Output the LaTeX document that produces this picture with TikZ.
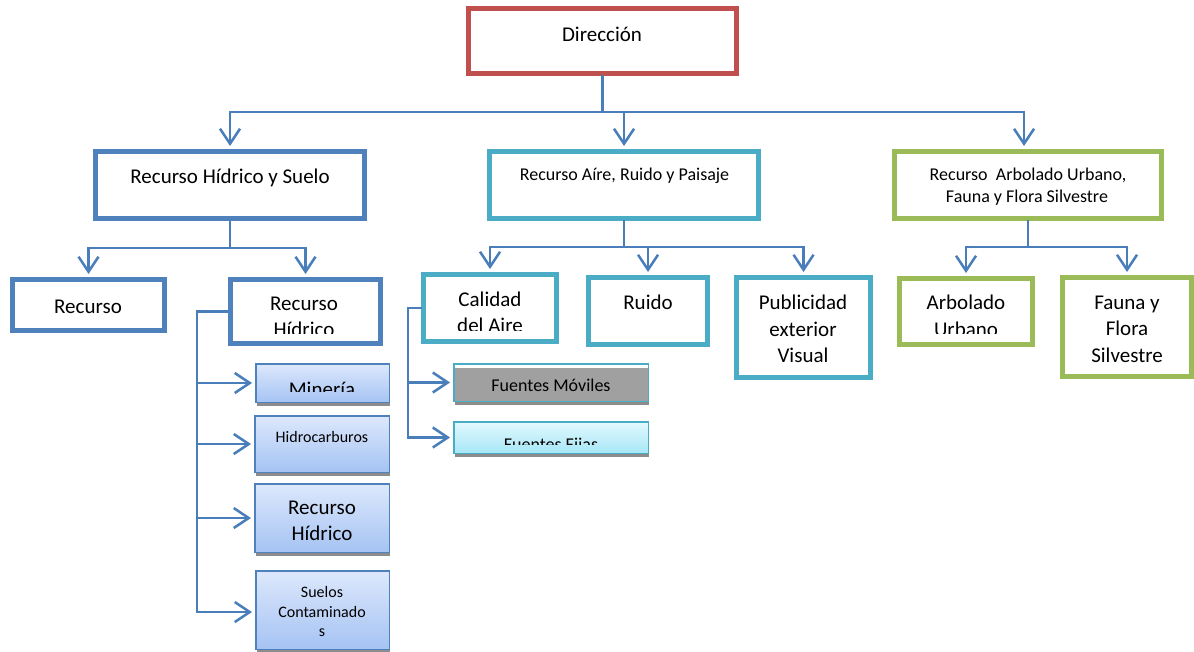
\documentclass[tikz,border=0pt]{standalone}
\usepackage{fontspec}
\setmainfont{Carlito}
\usetikzlibrary{arrows.meta,calc,shadows}
\definecolor{cRed}{HTML}{C0504D}
\definecolor{cBlue}{HTML}{4F81BD}
\definecolor{cTeal}{HTML}{4BACC6}
\definecolor{cGreen}{HTML}{9BBB59}
\definecolor{cLine}{HTML}{4A7EBB}
\definecolor{subTop}{HTML}{DDE8FC}
\definecolor{subBot}{HTML}{A5C3F3}
\definecolor{fijTop}{HTML}{E3F9FE}
\definecolor{fijBot}{HTML}{A6E6F6}
\definecolor{movGray}{HTML}{A0A0A0}
\definecolor{shGray}{HTML}{8C8C8C}
\begin{document}
\begin{tikzpicture}[x=1pt,y=-1pt,
  box/.style={draw=#1, line width=5pt, fill=white, rectangle, inner sep=0pt},
  subbox/.style={draw=#1, line width=1.5pt, rectangle, inner sep=0pt,
     drop shadow={shadow xshift=1pt, shadow yshift=-4pt, fill=shGray, opacity=1}},
  conn/.style={draw=cLine, line width=2.5pt, line cap=rect},
  arr/.style={draw=cLine, line width=2.5pt, -{Straight Barb[length=15pt,width=20pt,line width=2.5pt]}, shorten >=3pt},
  txt/.style={anchor=base, inner sep=0pt, text=black},
  big/.style={txt, font=\fontsize{21}{25}\selectfont},
  med/.style={txt, font=\fontsize{18}{22}\selectfont},
  sml/.style={txt, font=\fontsize{16}{19}\selectfont}
]
\useasboundingbox (0,0) rectangle (1194,652);

% ---- boxes ----
\node[box=cRed, minimum width=268pt, minimum height=65pt] (dir) at (602.5,41) {};
\node[box=cBlue, minimum width=269pt, minimum height=67pt] (hs) at (230,185) {};
\node[box=cTeal, minimum width=269pt, minimum height=67pt] (air) at (624,185) {};
\node[box=cGreen, minimum width=267pt, minimum height=67pt] (arb) at (1028,185) {};

\node[box=cBlue, minimum width=152pt, minimum height=51pt] (rec) at (88.5,305) {};
\node[box=cBlue, minimum width=150pt, minimum height=64pt] (rh) at (305.5,311.5) {};
\node[box=cTeal, minimum width=133pt, minimum height=67pt] (cal) at (490,308) {};
\node[box=cTeal, minimum width=119pt, minimum height=67pt] (ruido) at (648,311) {};
\node[box=cTeal, minimum width=134pt, minimum height=100pt] (pub) at (803.5,327.5) {};
\node[box=cGreen, minimum width=133pt, minimum height=66pt] (arbu) at (966,311.5) {};
\node[box=cGreen, minimum width=129pt, minimum height=99pt] (fauna) at (1127,327) {};

\node[subbox=cBlue, top color=subTop, bottom color=subBot, minimum width=133.5pt, minimum height=38.5pt] (min) at (322.5,383) {};
\node[subbox=cBlue, top color=subTop, bottom color=subBot, minimum width=134.5pt, minimum height=56.5pt] (hid) at (322,444) {};
\node[subbox=cBlue, top color=subTop, bottom color=subBot, minimum width=134.5pt, minimum height=68.5pt] (rh2) at (322,518) {};
\node[subbox=cBlue, top color=subTop, bottom color=subBot, minimum width=133.5pt, minimum height=78.5pt] (sue) at (322.5,610) {};

\node[subbox=cTeal, fill=movGray, minimum width=194.5pt, minimum height=37.5pt,
  path picture={\fill[white] (path picture bounding box.north west) rectangle ([yshift=-4pt]path picture bounding box.north east);}] (fm) at (551,382.5) {};
\node[subbox=cTeal, top color=fijTop, bottom color=fijBot, minimum width=194.5pt, minimum height=31.5pt] (ff) at (551,437.5) {};

% ---- connectors ----
\draw[conn] (dir.south) -- (dir.south |- 0,112) coordinate (b1);
\draw[arr] (b1) -| (hs.north);
\draw[arr] (b1) -| (air.north);
\draw[arr] (b1) -| ([xshift=-4pt]arb.north);

\draw[conn] (hs.south) -- (hs.south |- 0,248) coordinate (b2);
\draw[arr] (b2) -| (rec.north);
\draw[arr] (b2) -| (rh.north);

\draw[conn] (air.south) -- (air.south |- 0,247) coordinate (b3);
\draw[arr] (b3) -| (cal.north);
\draw[arr] (b3) -| (ruido.north);
\draw[arr] (b3) -| (pub.north);

\draw[conn] (arb.south) -- (arb.south |- 0,247) coordinate (b4);
\draw[arr] (b4) -| (arbu.north);
\draw[arr] (b4) -| (fauna.north);

\draw[conn] (rh.west) -- (rh.west -| 197,0) coordinate (b5) -- (b5 |- 0,612) coordinate (b5e);
\draw[arr] (b5 |- min.west) -- (min.west);
\draw[arr] (b5 |- hid.west) -- (hid.west);
\draw[arr] (b5 |- rh2.west) -- (rh2.west);
\draw[arr] (b5e) -- (b5e -| sue.west);

\draw[conn] (cal.west) -- (cal.west -| 408,0) coordinate (b6) -- (b6 |- ff.west);
\draw[arr] (b6 |- fm.west) -- (fm.west);
\draw[arr] (b6 |- ff.west) -- (ff.west);

% ---- texts ----
\node[big] (tdir) at (602,42) {Dirección};
\node[big] (ths) at (230,184) {Recurso Hídrico y Suelo};
\node[med] (tair) at (624.5,181) {Recurso Aíre, Ruido y Paisaje};
\node[med] (tarb1) at (1028,181) {Recurso\space\space Arbolado Urbano,};
\node[med] (tarb2) at (1027,203) {Fauna y Flora Silvestre};

\node[big] (trec) at (88,313) {Recurso};
\node[big] (trh1) at (304,311) {Recurso};
\begin{scope}
  \clip (228,277) rectangle (384,333);
  \node[big] (trh2) at (304,337) {Hídrico};
\end{scope}

\node[big] (tcal1) at (490,307) {Calidad};
\begin{scope}
  \clip (421,272) rectangle (559,330);
  \node[big] (tcal2) at (490,333) {del Aire};
\end{scope}
\node[big] (truido) at (648,310) {Ruido};
\node[big] (tpub1) at (803,310) {Publicidad};
\node[big] (tpub2) at (803,336) {exterior};
\node[big] (tpub3) at (803,362) {Visual};

\node[big] (tarbu1) at (966,310) {Arbolado};
\begin{scope}
  \clip (897,276) rectangle (1035,333);
  \node[big] (tarbu2) at (966,336) {Urbano};
\end{scope}
\node[big] (tfa1) at (1127,310) {Fauna y};
\node[big] (tfa2) at (1127,335) {Flora};
\node[big] (tfa3) at (1127,362) {Silvestre};

\begin{scope}
  \clip (255,363) rectangle (390,391);
  \node[big] (tmin) at (322,396) {Minería};
\end{scope}
\node[sml] (thid) at (322,442) {Hidrocarburos};
\node[big] (trh21) at (322,514) {Recurso};
\node[big] (trh22) at (322,540) {Hídrico};
\node[sml] (tsue1) at (322,597) {Suelos};
\node[sml] (tsue2) at (322,617) {Contaminado};
\node[sml] (tsue3) at (322,636) {s};

\node[med] (tfm) at (551,391) {Fuentes Móviles};
\begin{scope}
  \clip (453,421) rectangle (649,444);
  \node[med] (tff) at (551,450) {Fuentes Fijas};
\end{scope}
\end{tikzpicture}
\end{document}
